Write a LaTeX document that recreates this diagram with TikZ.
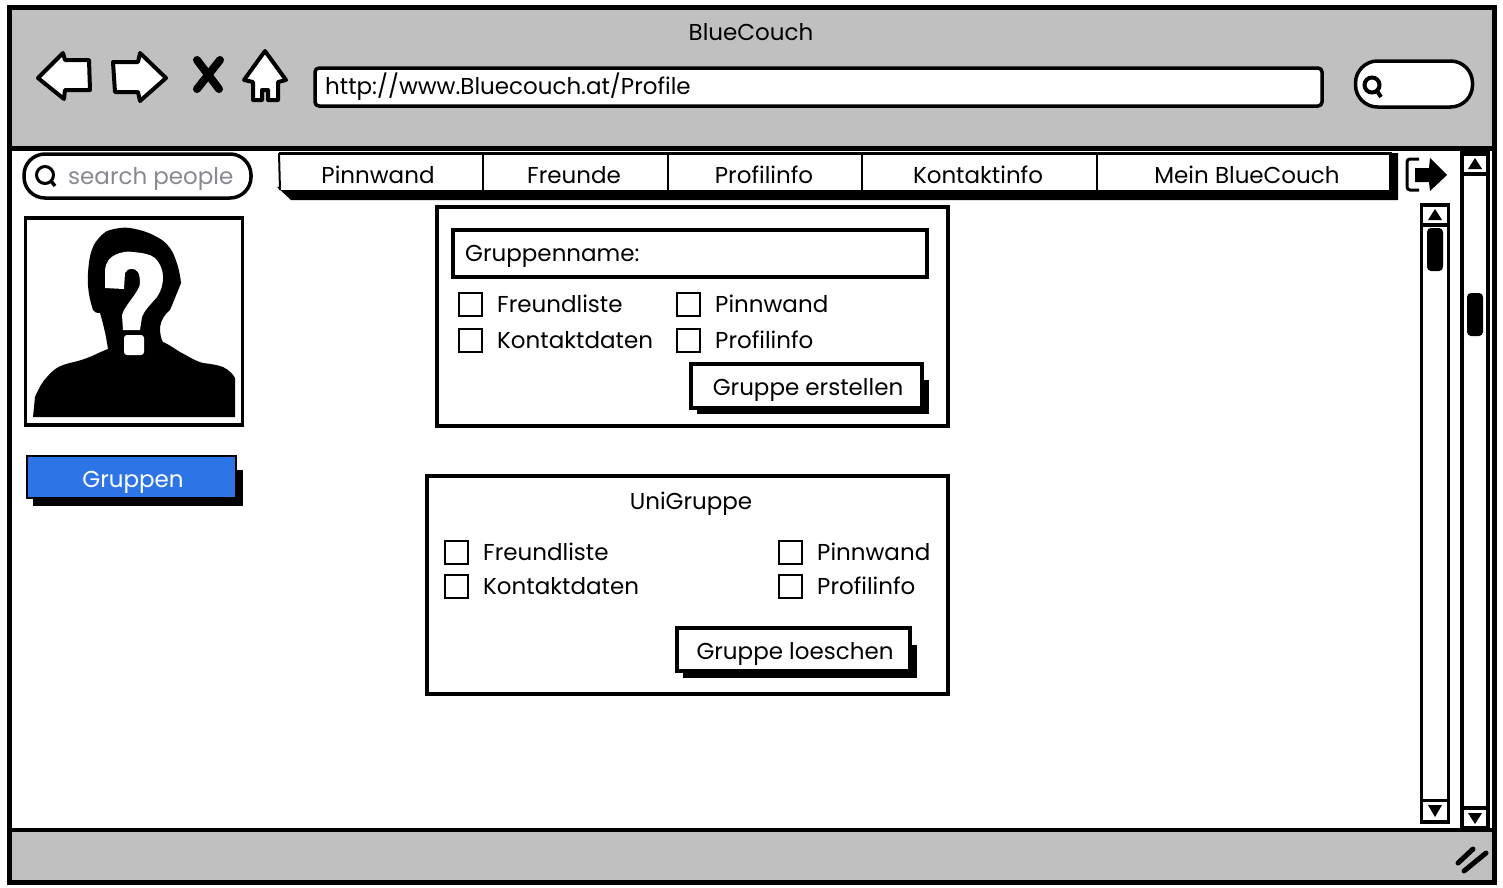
\documentclass[tikz,border=0pt]{standalone}
\usepackage{fontspec}
\setmainfont{Poppins}
\usetikzlibrary{positioning, calc}

\definecolor{chrome}{RGB}{192,192,192}
\definecolor{hint}{RGB}{136,136,146}
\definecolor{active}{RGB}{45,117,230}

\begin{document}
\begin{tikzpicture}[
    x=1pt,
    y=-1pt,
    box/.style={
        rectangle,
        draw,
        fill=white,
        line width=3.5pt,
        inner sep=0pt
    },
    tab/.style={
        rectangle,
        inner sep=0pt,
        text height=22pt,
        text depth=6pt,
        font=\fontsize{23}{23}\selectfont
    },
    label/.style={
        tab,
        anchor=west
    },
    checkbox/.style={
        rectangle,
        draw,
        fill=white,
        line width=2pt,
        minimum size=23pt,
        inner sep=0pt
    },
    shadow/.style={
        fill=black,
        draw=none
    },
    icon/.style={
        draw,
        fill=white,
        line width=4pt,
        line join=round
    }
]
\useasboundingbox (0,0) rectangle (1503,887);

% Window
\fill[white] (8,7) rectangle (1494,882);
\fill[chrome] (8,7) rectangle (1494,148);
\fill[chrome] (8,830) rectangle (1494,882);
\draw[line width=5pt] (9,7) rectangle (1494,882);
\draw[line width=5pt] (9,148) -- (1494,148);
\draw[line width=4.5pt] (9,830) -- (1494,830);

% Title bar
\node[tab] (title) at (751,32) {BlueCouch};
\draw[icon] (38,78) -- (63,53) -- (65,60) -- (89,60) -- (90,90) -- (65,90) -- (64,99) -- cycle;
\draw[icon] (113,62) -- (138,62) -- (140,53) -- (166,78) -- (140,101) -- (138,92) -- (115,92) -- cycle;
\draw[line width=8pt, line cap=round] (197,60) -- (219,89);
\draw[line width=8pt, line cap=round] (220,60) -- (197,89);
\draw[icon] (265,51) -- (286,80) -- (278,82) -- (278,100) -- (268,100) -- (268,90) -- (262,90) -- (262,100) -- (253,100) -- (253,82) -- (244,80) -- cycle;
\node[box, rounded corners=4pt, minimum width=1007pt, minimum height=38pt] (url) at (818.5,87) {};
\node[label] (urltext) at (325,86) {http://www.Bluecouch.at/Profile};
\node[box, rounded corners=22pt, minimum width=117pt, minimum height=46pt] (websearch) at (1414,84) {};
\draw[line width=4pt] (1372,85) circle (7.5pt);
\draw[line width=4pt] (1377,91) -- (1381,97);

% Side search
\node[box, rounded corners=21pt, minimum width=227pt, minimum height=44pt] (search) at (137.5,176) {};
\draw[line width=3pt] (45,175) circle (8.5pt);
\draw[line width=3.5pt] (51,181) -- (55,186);
\node[label, text=hint] (searchtext) at (68,176) {search people};

% Tabs
\fill[shadow] (277,187) -- (291,200) -- (1398,200) -- (1398,153) -- (1380,153) -- cycle;
\draw[line width=3pt] (279,153) -- (1392,153);
\draw[line width=2pt] (279,153) -- (280,190);
\fill[white] (281,155) rectangle (1389,189.5);
\draw[line width=2pt] (1390,153) -- (1392,190);
\node[tab] (tab1) at (378,175) {Pinnwand};
\node[tab] (tab2) at (574,175) {Freunde};
\node[tab] (tab3) at (764,175) {Profilinfo};
\node[tab] (tab4) at (978,175) {Kontaktinfo};
\node[tab] (tab5) at (1247,175) {Mein BlueCouch};
\draw[line width=2pt] (483,153) -- (483,195);
\draw[line width=2pt] (668,153) -- (668,195);
\draw[line width=2pt] (862,153) -- (862,195);
\draw[line width=2pt] (1097,153) -- (1097,195);

% Logout
\draw[line width=3pt, rounded corners=3pt] (1419,159) -- (1407,159) -- (1407,190) -- (1419,190);
\fill[black] (1415,168) -- (1429,168) -- (1430,158) -- (1447,175) -- (1430,191) -- (1429,182) -- (1415,182) -- cycle;

% Outer scrollbar
\node[box, minimum width=26pt, minimum height=675pt] (outerscroll) at (1475,490.5) {};
\node[box, minimum width=26pt, minimum height=20pt] (outerup) at (1475,164) {};
\node[box, minimum width=26pt, minimum height=20pt] (outerdown) at (1475,818) {};
\fill[black] (1468,169) -- (1475,158) -- (1482,169) -- cycle;
\fill[black] (1468,813) -- (1482,813) -- (1475,824) -- cycle;
\fill[black, rounded corners=4pt] (1467,293) rectangle (1483,336);

% Inner scrollbar
\node[box, minimum width=27pt, minimum height=617pt] (innerscroll) at (1435,513.5) {};
\node[box, minimum width=27pt, minimum height=20pt] (innerup) at (1435,215) {};
\node[box, minimum width=27pt, minimum height=21pt] (innerdown) at (1435,811) {};
\fill[black] (1428,220) -- (1435,209) -- (1442,220) -- cycle;
\fill[black] (1428,805) -- (1442,805) -- (1435,817) -- cycle;
\fill[black, rounded corners=4pt] (1427,228) rectangle (1443,271);

% Profile picture
\node[box, minimum width=217pt, minimum height=207pt] (photo) at (134,321.5) {};
\fill[black] (33,417) -- (35,397) .. controls (39,388) and (42,382) .. (47,377) .. controls (52,371) and (57,367) .. (63,365) .. controls (72,362) and (80,361) .. (87,358) .. controls (95,355) and (102,351) .. (108,349) .. controls (106,335) and (103,323) .. (100,313) .. controls (96,313) and (94,312) .. (93,310) .. controls (89,298) and (87,285) .. (88,273) .. controls (89,260) and (90,252) .. (95,243) .. controls (100,236) and (105,231) .. (110,230) .. controls (118,228) and (124,227) .. (130,228) .. controls (142,230) and (150,233) .. (157,237) .. controls (165,241) and (170,247) .. (173,253) .. controls (177,262) and (180,272) .. (181,283) .. controls (177,293) and (173,303) .. (170,310) .. controls (165,314) and (161,320) .. (160,327) .. controls (160,334) and (161,339) .. (163,342) .. controls (170,345) and (175,349) .. (180,352) .. controls (188,356) and (195,361) .. (203,363) .. controls (211,364) and (218,365) .. (223,367) .. controls (229,370) and (233,374) .. (235,378) -- (235,417) -- cycle;
\fill[white] (105,288) -- (105,270) .. controls (106,262) and (110,257) .. (115,255) .. controls (121,252) and (127,251) .. (133,252) .. controls (143,253) and (150,254) .. (155,258) .. controls (160,263) and (163,270) .. (163,277) .. controls (163,285) and (161,291) .. (157,297) .. controls (150,305) and (144,311) .. (142,317) -- (140,330) -- (123,330) -- (122,315) .. controls (124,308) and (129,303) .. (133,297) .. controls (137,291) and (140,287) .. (140,283) .. controls (140,277) and (139,274) .. (138,272) .. controls (135,268) and (128,267) .. (125,273) -- (124,289) -- cycle;
\fill[white, rounded corners=3pt] (124,335) rectangle (144,355);

% Gruppen button
\fill[shadow] (33,470) rectangle (243,506);
\node[box, fill=active, line width=2.5pt, minimum width=209pt, minimum height=42pt] (gruppen) at (131.5,477) {};
\node[tab, text=white] (gruppentext) at (133,479) {Gruppen};

% New group form
\node[box, minimum width=511pt, minimum height=219pt] (newform) at (692.5,316.5) {};
\node[box, minimum width=474pt, minimum height=47pt] (groupname) at (690,253.5) {};
\draw[line width=2pt] (927,232) -- (927,279);
\node[label] (groupnametext) at (465,253) {Gruppenname:};
\node[checkbox] (newcheck1) at (470.5,304) {};
\node[checkbox] (newcheck2) at (688.5,304) {};
\node[checkbox] (newcheck3) at (470.5,340) {};
\node[checkbox] (newcheck4) at (688.5,340) {};
\node[label] (newlabel1) at (497,304) {Freundliste};
\node[label] (newlabel2) at (715,304) {Pinnwand};
\node[label] (newlabel3) at (497,340) {Kontaktdaten};
\node[label] (newlabel4) at (715,340) {Profilinfo};
\fill[shadow] (697,380) rectangle (929,414);
\node[box, minimum width=231pt, minimum height=44pt] (createbtn) at (806.5,386) {};
\node[tab] (createtext) at (808,387) {Gruppe erstellen};

% Existing group form
\node[box, minimum width=521pt, minimum height=218pt] (oldform) at (687.5,585) {};
\node[tab] (oldtitle) at (691,501) {UniGruppe};
\node[checkbox] (oldcheck1) at (456.5,552) {};
\node[checkbox] (oldcheck2) at (790.5,552) {};
\node[checkbox] (oldcheck3) at (456.5,586) {};
\node[checkbox] (oldcheck4) at (790.5,586) {};
\node[label] (oldlabel1) at (483,552) {Freundliste};
\node[label] (oldlabel2) at (817,552) {Pinnwand};
\node[label] (oldlabel3) at (483,586) {Kontaktdaten};
\node[label] (oldlabel4) at (817,586) {Profilinfo};
\fill[shadow] (683,645) rectangle (917,678);
\node[box, minimum width=233pt, minimum height=43pt] (deletebtn) at (793.5,649.5) {};
\node[tab] (deletetext) at (795,651) {Gruppe loeschen};

% Resize grip
\draw[line width=5pt, line cap=round] (1458,863) -- (1473,849);
\draw[line width=5pt, line cap=round] (1464,871) -- (1486,853);

\end{tikzpicture}
\end{document}
